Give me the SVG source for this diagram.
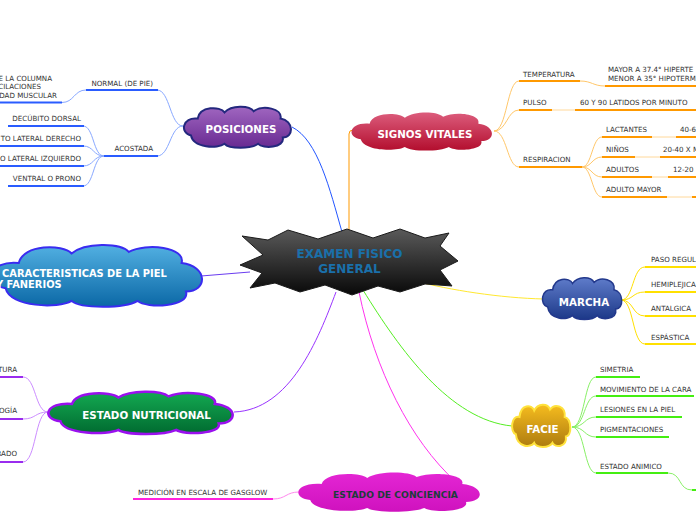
<svg xmlns="http://www.w3.org/2000/svg" xmlns:xlink="http://www.w3.org/1999/xlink" width="696" height="520" viewBox="0 0 696 520">
<style>
.t{font-family:"DejaVu Sans",Verdana,sans-serif;font-size:7.1px;fill:#333}
.h{font-family:"DejaVu Sans",Verdana,sans-serif;font-weight:bold;font-size:10.3px;fill:#fff;text-anchor:middle}
.e{text-anchor:end}
.c{fill:none;stroke-width:1}
.u{fill:none;stroke-width:2}
.cloud{vector-effect:non-scaling-stroke}
</style>
<defs>
<path id="cloud" class="cloud" d="M8,28 C-2,26 0,10 14,12 C16,0 34,0 38,6 C44,-1 60,-1 64,5 C72,-1 90,2 88,12 C100,14 100,30 90,30 C92,40 72,41 68,36 C62,41 42,41 38,36 C32,41 10,40 8,28 Z"/>
<linearGradient id="gStar" x1="0" y1="0" x2="0" y2="1"><stop offset="0" stop-color="#5a5a5a"/><stop offset="1" stop-color="#080808"/></linearGradient>
<linearGradient id="gPos" x1="0" y1="0" x2="0" y2="1"><stop offset="0" stop-color="#a066c0"/><stop offset="1" stop-color="#682a92"/></linearGradient>
<linearGradient id="gSig" x1="0" y1="0" x2="0" y2="1"><stop offset="0" stop-color="#dc5c7c"/><stop offset="1" stop-color="#b30e2e"/></linearGradient>
<linearGradient id="gCar" x1="0" y1="0" x2="0" y2="1"><stop offset="0" stop-color="#52b0e2"/><stop offset="1" stop-color="#0b68a6"/></linearGradient>
<linearGradient id="gMar" x1="0" y1="0" x2="0" y2="1"><stop offset="0" stop-color="#5f7cca"/><stop offset="1" stop-color="#1c3888"/></linearGradient>
<linearGradient id="gFac" x1="0" y1="0" x2="0" y2="1"><stop offset="0" stop-color="#f6bc1e"/><stop offset="1" stop-color="#ad7c10"/></linearGradient>
<linearGradient id="gNut" x1="0" y1="0" x2="0" y2="1"><stop offset="0" stop-color="#14aa52"/><stop offset="1" stop-color="#006a30"/></linearGradient>
<linearGradient id="gCon" x1="0" y1="0" x2="0" y2="1"><stop offset="0" stop-color="#e426d4"/><stop offset="1" stop-color="#cf12be"/></linearGradient>
</defs>
<rect width="696" height="520" fill="#fff"/>

<g id="connectors">
 <!-- main -->
 <path class="c" stroke="#2255ff" stroke-width="1.5" d="M342,232 C330,190 318,140 292,127"/>
 <path class="c" stroke="#ff9900" stroke-width="1.5" d="M349,232 L349,134 Q349,130 353,130"/>
 <path class="c" stroke="#6a3cf0" stroke-width="1.5" d="M201,276 L250,272"/>
 <path class="c" stroke="#ffe830" stroke-width="1.5" d="M415,281 C450,290 500,298 544,299"/>
 <path class="c" stroke="#55ee22" stroke-width="1.2" d="M363,290 C400,350 450,420 512,426"/>
 <path class="c" stroke="#ff33ee" stroke-width="1.5" d="M359,292 C375,370 410,440 456,482"/>
 <path class="c" stroke="#9933ff" stroke-width="1.5" d="M336,292 C318,340 290,410 234,412"/>
 <!-- posiciones -->
 <path class="c" stroke="#88a8ff" d="M183,126 C170,126 170,90 157,90"/>
 <path class="c" stroke="#88a8ff" d="M183,126 C170,126 170,156 157,156"/>
 <path class="c" stroke="#88a8ff" d="M86,90 C74,90 74,102.5 62,102.5"/>
 <path class="c" stroke="#88a8ff" d="M104,156 C93,156 94,126 83,126"/>
 <path class="c" stroke="#88a8ff" d="M104,156 C93,156 94,146 83,146"/>
 <path class="c" stroke="#88a8ff" d="M104,156 C93,156 94,166 83,166"/>
 <path class="c" stroke="#88a8ff" d="M104,156 C93,156 94,186 83,186"/>
 <!-- signos -->
 <path class="c" stroke="#ffc76a" d="M494,131 C507,131 507,81 519,81"/>
 <path class="c" stroke="#ffc76a" d="M494,131 C507,131 507,110 519,110"/>
 <path class="c" stroke="#ffc76a" d="M494,131 C507,131 507,167 519,167"/>
 <path class="c" stroke="#ffc76a" d="M580,81 C592,81 593,86 605,86"/>
 <path class="c" stroke="#ffd89a" stroke-width="2" d="M552,110 H575"/>
 <path class="c" stroke="#ffc76a" d="M582,167 C592,167 592,137 602,137"/>
 <path class="c" stroke="#ffc76a" d="M582,167 C592,167 592,157 602,157"/>
 <path class="c" stroke="#ffc76a" d="M582,167 C592,167 592,177 602,177"/>
 <path class="c" stroke="#ffc76a" d="M582,167 C592,167 592,197 602,197"/>
 <path class="c" stroke="#ffd89a" stroke-width="2" d="M652,137 H676"/>
 <path class="c" stroke="#ffd89a" stroke-width="2" d="M635,157 H660"/>
 <path class="c" stroke="#ffd89a" stroke-width="2" d="M652,177 H668"/>
 <path class="c" stroke="#ffd89a" stroke-width="2" d="M667,197 H692"/>
 <!-- marcha -->
 <path class="c" stroke="#ffe000" stroke-width="2" d="M621,300 C634,300 632,267 645,267"/>
 <path class="c" stroke="#ffe000" stroke-width="2" d="M621,300 C634,300 632,292 645,292"/>
 <path class="c" stroke="#ffe000" stroke-width="2" d="M621,300 C634,300 632,316 645,316"/>
 <path class="c" stroke="#ffe000" stroke-width="2" d="M621,300 C634,300 632,344 645,344"/>
 <!-- facie -->
 <path class="c" stroke="#88f066" d="M572,427 C585,427 584,377 596,377"/>
 <path class="c" stroke="#88f066" d="M572,427 C585,427 584,396 596,396"/>
 <path class="c" stroke="#88f066" d="M572,427 C585,427 584,417 596,417"/>
 <path class="c" stroke="#88f066" d="M572,427 C585,427 584,437 596,437"/>
 <path class="c" stroke="#88f066" d="M572,427 C585,427 584,473 596,473"/>
 <path class="c" stroke="#88f066" d="M668,473 C682,473 678,490 692,490"/>
 <!-- nutricional -->
 <path class="c" stroke="#cc8cff" d="M48,412 C35,412 36,377 23,377"/>
 <path class="c" stroke="#cc8cff" d="M48,412 C35,412 36,419 23,419"/>
 <path class="c" stroke="#cc8cff" d="M48,412 C35,412 36,462 23,462"/>
 <!-- conciencia -->
 <path class="c" stroke="#ff88ee" d="M299,492 C286,492 286,499 273,499"/>
</g>

<g id="center">
 <path d="M242,236 L268,240 L288,230 L318,239 L347,229 L373,238 L400,229 L425,238 L449,233 L440,246 L458,261 L440,270 L452,286 L425,284 L400,292 L378,286 L352,295 L325,285 L300,292 L275,283 L250,288 L262,273 L240,265 L263,255 Z" fill="url(#gStar)" stroke="#1a1a1a" stroke-width="1"/>
 <text class="h" x="349.5" y="258" style="font-size:12px;fill:#1a70aa">EXAMEN FISICO</text>
 <text class="h" x="349.5" y="273" style="font-size:12px;fill:#1a70aa">GENERAL</text>
</g>

<g id="posiciones">
 <use xlink:href="#cloud" href="#cloud" transform="translate(182,106) scale(1.12,1.05)" fill="url(#gPos)" stroke="#24287e" stroke-width="2"/>
 <text class="h" x="241" y="132.5">POSICIONES</text>
</g>
<g id="normal">
 <path class="u" stroke="#2a5cff" d="M86,90 H158"/>
 <text class="t e" x="153" y="85.7">NORMAL (DE PIE)</text>
</g>
<g id="normal-detalle">
 <path class="u" stroke="#2a5cff" d="M0,102.5 H62"/>
 <text class="t e" x="52" y="80.5">E LA COLUMNA</text>
 <text class="t e" x="41" y="89">CILACIONES</text>
 <text class="t e" x="57" y="97.7">DAD MUSCULAR</text>
</g>
<g id="acostada">
 <path class="u" stroke="#2a5cff" d="M104,156 H158"/>
 <text class="t e" x="153" y="151">ACOSTADA</text>
</g>
<g id="decubito-dorsal">
 <path class="u" stroke="#2a5cff" d="M8,126 H84"/>
 <text class="t e" x="81" y="121">DECÚBITO DORSAL</text>
</g>
<g id="lateral-derecho">
 <path class="u" stroke="#2a5cff" d="M0,146 H84"/>
 <text class="t e" x="81" y="141">TO LATERAL DERECHO</text>
</g>
<g id="lateral-izquierdo">
 <path class="u" stroke="#2a5cff" d="M0,166 H84"/>
 <text class="t e" x="81" y="161">O LATERAL IZQUIERDO</text>
</g>
<g id="ventral">
 <path class="u" stroke="#2a5cff" d="M8,186 H84"/>
 <text class="t e" x="81" y="180.7">VENTRAL O PRONO</text>
</g>

<g id="signos-vitales">
 <use xlink:href="#cloud" href="#cloud" transform="translate(349,112) scale(1.47,0.97)" fill="url(#gSig)"/>
 <text class="h" x="425" y="138">SIGNOS VITALES</text>
</g>
<g id="temperatura">
 <path class="u" stroke="#ff9900" d="M519,81 H580"/>
 <text class="t" x="523" y="77">TEMPERATURA</text>
</g>
<g id="temperatura-detalle">
 <path class="u" stroke="#ff9900" d="M605,86 H696"/>
 <text class="t" x="608" y="72.3">MAYOR A 37.4° HIPERTE</text>
 <text class="t" x="608" y="81">MENOR A 35° HIPOTERM</text>
</g>
<g id="pulso">
 <path class="u" stroke="#ff9900" d="M519,110 H552"/>
 <text class="t" x="523" y="105">PULSO</text>
</g>
<g id="pulso-detalle">
 <path class="u" stroke="#ff9900" d="M575,110 H696"/>
 <text class="t" x="580" y="105">60 Y 90 LATIDOS POR MINUTO</text>
</g>
<g id="respiracion">
 <path class="u" stroke="#ff9900" d="M519,167 H582"/>
 <text class="t" x="523" y="162">RESPIRACION</text>
</g>
<g id="lactantes">
 <path class="u" stroke="#ff9900" d="M602,137 H652"/>
 <text class="t" x="606" y="132.3">LACTANTES</text>
 <path class="u" stroke="#ff9900" d="M676,137 H696"/>
 <text class="t" x="680" y="132.3">40-6</text>
</g>
<g id="ninos">
 <path class="u" stroke="#ff9900" d="M602,157 H635"/>
 <text class="t" x="606" y="152.3">NIÑOS</text>
 <path class="u" stroke="#ff9900" d="M660,157 H696"/>
 <text class="t" x="663" y="152.3">20-40 X M</text>
</g>
<g id="adultos">
 <path class="u" stroke="#ff9900" d="M602,177 H652"/>
 <text class="t" x="606" y="172.3">ADULTOS</text>
 <path class="u" stroke="#ff9900" d="M668,177 H696"/>
 <text class="t" x="673" y="172.3">12-20</text>
</g>
<g id="adulto-mayor">
 <path class="u" stroke="#ff9900" d="M602,197 H667"/>
 <text class="t" x="606" y="192.3">ADULTO MAYOR</text>
 <path class="u" stroke="#ff9900" d="M692,197 H696"/>
</g>

<g id="caracteristicas">
 <use xlink:href="#cloud" href="#cloud" transform="translate(-12,244) scale(2.2,1.58)" fill="url(#gCar)" stroke="#3a2cf0" stroke-width="2"/>
 <text class="h" x="2" y="276.7" style="text-anchor:start;font-size:9.9px">CARACTERISTICAS DE LA PIEL</text>
 <text class="h" x="-4" y="288.3" style="text-anchor:start;font-size:9.9px">Y FANERIOS</text>
</g>

<g id="marcha">
 <use xlink:href="#cloud" href="#cloud" transform="translate(541,277) scale(0.83,1.07)" fill="url(#gMar)" stroke="#22388c" stroke-width="1.5"/>
 <text class="h" x="584" y="305.7">MARCHA</text>
</g>
<g id="paso-regular">
 <path class="u" stroke="#ffe000" d="M645,267 H696"/>
 <text class="t" x="651" y="262.3">PASO REGUL</text>
</g>
<g id="hemiplejica">
 <path class="u" stroke="#ffe000" d="M645,292 H696"/>
 <text class="t" x="651" y="287.3">HEMIPLEJICA</text>
</g>
<g id="antalgica">
 <path class="u" stroke="#ffe000" d="M645,316 H696"/>
 <text class="t" x="651" y="311">ANTALGICA</text>
</g>
<g id="espastica">
 <path class="u" stroke="#ffe000" d="M645,344 H696"/>
 <text class="t" x="651" y="340">ESPÁSTICA</text>
</g>

<g id="facie">
 <use xlink:href="#cloud" href="#cloud" transform="translate(511,404) scale(0.61,1.08)" fill="url(#gFac)" stroke="#ffe23c" stroke-width="2"/>
 <text class="h" x="542.5" y="432.7">FACIE</text>
</g>
<g id="simetria">
 <path class="u" stroke="#44ee11" d="M596,377 H640"/>
 <text class="t" x="600" y="371.7">SIMETRIA</text>
</g>
<g id="movimiento">
 <path class="u" stroke="#44ee11" d="M596,396 H694"/>
 <text class="t" x="600" y="391.7">MOVIMIENTO DE LA CARA</text>
</g>
<g id="lesiones">
 <path class="u" stroke="#44ee11" d="M596,417 H682"/>
 <text class="t" x="600" y="412.3">LESIONES EN LA PIEL</text>
</g>
<g id="pigmentaciones">
 <path class="u" stroke="#44ee11" d="M596,437 H669"/>
 <text class="t" x="600" y="431.7">PIGMENTACIONES</text>
</g>
<g id="estado-animico">
 <path class="u" stroke="#44ee11" d="M596,473 H668"/>
 <text class="t" x="600" y="469">ESTADO ANIMICO</text>
 <path class="u" stroke="#44ee11" d="M692,490 H696"/>
</g>

<g id="estado-nutricional">
 <use xlink:href="#cloud" href="#cloud" transform="translate(45,391) scale(1.93,1.08)" fill="url(#gNut)" stroke="#9a10ee" stroke-width="2.5"/>
 <text class="h" x="146.5" y="419">ESTADO NUTRICIONAL</text>
</g>
<g id="nut-1">
 <path class="u" stroke="#9a2cee" d="M0,377 H23"/>
 <text class="t e" x="17" y="371.7">TURA</text>
</g>
<g id="nut-2">
 <path class="u" stroke="#9a2cee" d="M0,419 H23"/>
 <text class="t e" x="17" y="413.3">OGÍA</text>
</g>
<g id="nut-3">
 <path class="u" stroke="#9a2cee" d="M0,462 H23"/>
 <text class="t e" x="17" y="456">RADO</text>
</g>

<g id="estado-conciencia">
 <use xlink:href="#cloud" href="#cloud" transform="translate(295,472) scale(1.9,1.0)" fill="url(#gCon)"/>
 <text class="h" x="395.5" y="498.3" style="font-size:9.2px;fill:#1e3c3c">ESTADO DE CONCIENCIA</text>
</g>
<g id="glasgow">
 <path class="u" stroke="#ff22dd" d="M133,499 H273"/>
 <text class="t" x="138" y="495">MEDICIÓN EN ESCALA DE GASGLOW</text>
</g>
</svg>
